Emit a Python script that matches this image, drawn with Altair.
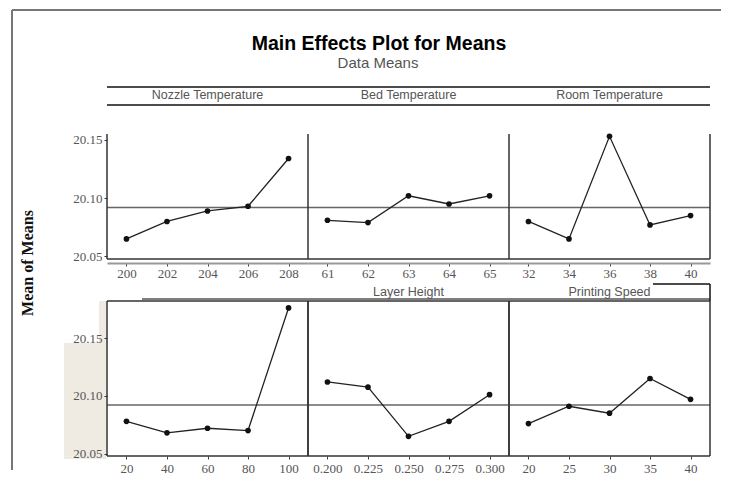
import altair as alt
import pandas as pd

# ---- data ----
nozzle_levels = ["200", "202", "204", "206", "208"]
nozzle_means = [20.065, 20.080, 20.089, 20.093, 20.134]
bed_levels = ["61", "62", "63", "64", "65"]
bed_means = [20.081, 20.079, 20.102, 20.095, 20.102]
room_levels = ["32", "34", "36", "38", "40"]
room_means = [20.080, 20.065, 20.153, 20.077, 20.085]
fourth_levels = ["20", "40", "60", "80", "100"]
fourth_means = [20.078, 20.068, 20.072, 20.070, 20.176]
layer_levels = ["0.200", "0.225", "0.250", "0.275", "0.300"]
layer_means = [20.112, 20.1075, 20.065, 20.078, 20.101]
speed_levels = ["20", "25", "30", "35", "40"]
speed_means = [20.076, 20.091, 20.085, 20.115, 20.097]
grand_mean = 20.092
factor_names = ["Nozzle Temperature", "Bed Temperature", "Room Temperature",
                "", "Layer Height", "Printing Speed"]
y_ticks = [20.05, 20.10, 20.15]
top_domain = [20.0478, 20.155]
bottom_domain = [20.048, 20.182]

title_text = "Main Effects Plot for Means"
subtitle_text = "Data Means"
y_title_text = "Mean of Means"

W = 201
H_TOP = 125
H_BOT = 155
EDGE = "#333333"
one = pd.DataFrame({"k": [0]})


def rule(x, y, x2=None, y2=None, color=EDGE, width=1.5):
    enc = dict(x=alt.value(x), y=alt.value(y))
    if x2 is not None:
        enc["x2"] = alt.value(x2)
    if y2 is not None:
        enc["y2"] = alt.value(y2)
    return alt.Chart(one).mark_rule(color=color, strokeWidth=width).encode(**enc)


def label(txt, x, y, **kw):
    return alt.Chart(pd.DataFrame({"t": [txt]})).mark_text(**kw).encode(
        text="t:N", x=alt.value(x), y=alt.value(y))


def panel(idx, levels, means):
    row = idx // 3
    col = idx % 3
    H = H_TOP if row == 0 else H_BOT
    dom = top_domain if row == 0 else bottom_domain
    df = pd.DataFrame({"level": levels, "mean": means})

    if row == 0:
        xaxis = alt.Axis(title=None, labelAngle=0, labelFont="Liberation Serif",
                         labelFontSize=13, labelColor="#555555", tickColor="#444444",
                         tickSize=3, labelPadding=1, domain=True, domainColor="#999999",
                         domainWidth=2, offset=4)
    else:
        xaxis = alt.Axis(title=None, labelAngle=0, labelFont="Liberation Serif",
                         labelFontSize=13, labelColor="#555555", tickColor="#444444",
                         tickSize=3, labelPadding=3, domain=False)
    if col == 0:
        yaxis = alt.Axis(title=None, values=y_ticks, format=".2f", domain=False,
                         grid=False, tickSize=3, tickColor="#333333",
                         labelFont="Liberation Serif", labelFontSize=13,
                         labelColor="#555555", labelPadding=2, zindex=1)
    else:
        yaxis = None

    x = alt.X("level:O", sort=levels, scale=alt.Scale(padding=0.48), axis=xaxis)
    y = alt.Y("mean:Q", scale=alt.Scale(domain=dom, nice=False, zero=False), axis=yaxis)

    layers = []
    if idx == 3:
        # light background patch next to the lower-left axis
        layers.append(alt.Chart(one).mark_rect(color="#efebe3").encode(
            x=alt.value(-43), x2=alt.value(-1), y=alt.value(42), y2=alt.value(158)))
        layers.append(alt.Chart(one).mark_rect(color="#efebe3").encode(
            x=alt.value(-8), x2=alt.value(-1), y=alt.value(0), y2=alt.value(42)))

    ref = alt.Chart(pd.DataFrame({"mean": [grand_mean]})).mark_rule(
        color="#666666", strokeWidth=1.5).encode(y=y)
    base = alt.Chart(df)
    line = base.mark_line(color="#222222", strokeWidth=1.3).encode(x=x, y=y)
    pts = base.mark_circle(size=32, color="#111111", opacity=1).encode(x=x, y=y)
    layers += [ref, line, pts]

    # panel borders
    if row == 0:
        layers.append(rule(0, 0, y2=H))
        layers.append(rule(0, H, x2=W))
        if col == 2:
            layers.append(rule(W, 0, y2=H))
        # header band
        layers.append(rule(0, -47, x2=W, color="#111111"))
        layers.append(rule(0, -29, x2=W, color="#111111"))
        layers.append(label(factor_names[idx], W / 2, -35, font="Liberation Sans",
                            fontSize=12.5, color="#555555", baseline="alphabetic"))
    else:
        layers.append(rule(0, 0, x2=W))
        layers.append(rule(0, H, x2=W))
        layers.append(rule(0, 0, y2=H))
        layers.append(rule(W, 0, y2=H))
        layers.append(rule(35 if col == 0 else 0, -2, x2=W, color="#555555"))
        if factor_names[idx]:
            layers.append(label(factor_names[idx], W / 2, -5, font="Liberation Sans",
                                fontSize=12.5, color="#555555", baseline="alphabetic"))
        if col == 2:
            layers.append(rule(144, -17, x2=W, color="#111111"))
            layers.append(rule(W, -17, y2=0, color="#111111"))

    if idx == 0:
        # outer frame, titles and y-axis title
        layers.append(rule(-95, -124, x2=614, color="#777777", width=2))
        layers.append(rule(-95, -124, y2=336, color="#777777", width=2))
        layers.append(label(title_text, 272, -84, font="Liberation Sans", fontSize=19.5,
                            fontWeight="bold", color="#000000", baseline="alphabetic"))
        layers.append(label(subtitle_text, 271, -66, font="Liberation Sans", fontSize=15,
                            color="#555555", baseline="alphabetic"))
        layers.append(label(y_title_text, -79, 129, font="Liberation Serif", fontSize=16,
                            fontWeight="bold", color="#111111", angle=270,
                            baseline="middle", align="center"))

    return alt.layer(*layers).properties(width=W, height=H)


all_levels = [nozzle_levels, bed_levels, room_levels, fourth_levels, layer_levels, speed_levels]
all_means = [nozzle_means, bed_means, room_means, fourth_means, layer_means, speed_means]
panels = [panel(i, all_levels[i], all_means[i]) for i in range(6)]

chart = alt.concat(*panels, columns=3, spacing={"row": 42, "column": 0},
                   bounds="flush").properties(
    padding={"left": 2, "top": 0, "right": 0, "bottom": 0},
    background="white",
).configure_view(stroke="transparent")

chart.save("out.html", embed_options={"renderer": "svg", "actions": False})
